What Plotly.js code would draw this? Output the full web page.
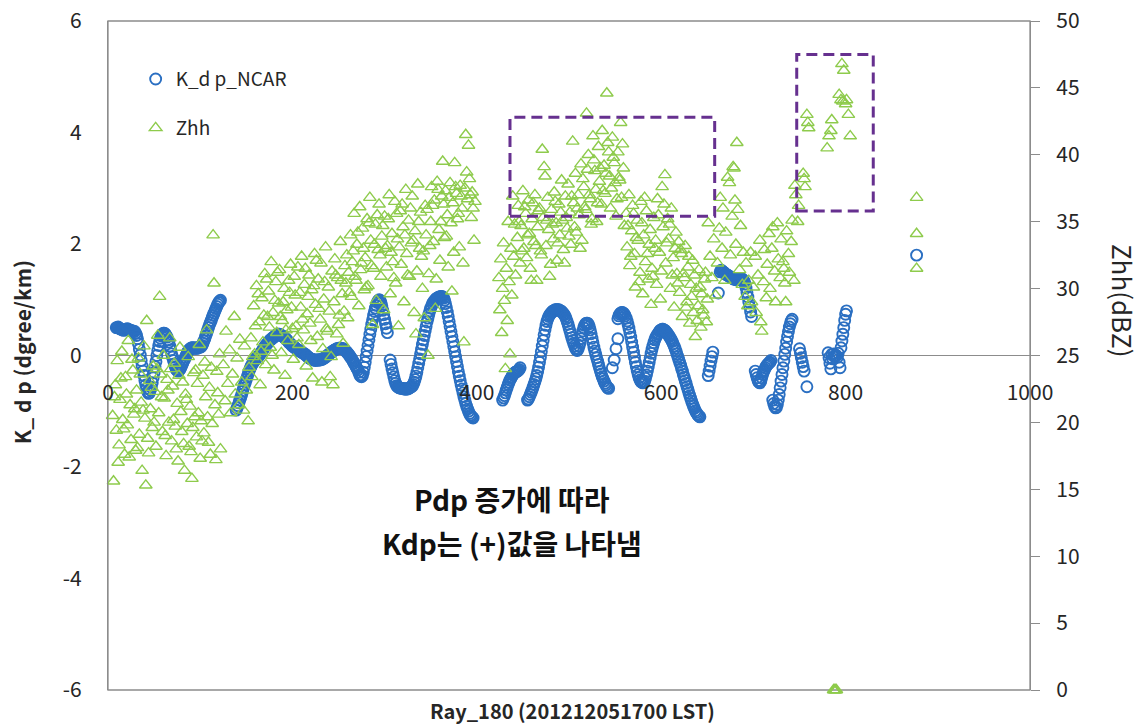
<!DOCTYPE html>
<html>
<head>
<meta charset="utf-8">
<script src="https://cdn.plot.ly/plotly-3.0.1.min.js"></script>
<style>
  html, body { margin: 0; padding: 0; background: #ffffff; }
  #chart { width: 1146px; height: 726px; }
</style>
</head>
<body>
<div id="chart"></div>
<script>
// Ray_180 (2012-12-05 17:00 LST): specific differential phase and reflectivity along the ray

// [ray gate, Kdp (deg/km)]
const kdpNcar = [
  [9,0.50],[10,0.50],[11,0.51],[12,0.49],[13,0.48],[14,0.47],[15,0.47],[16,0.46],[17,0.45],[18,0.46],[19,0.47],[20,0.47],
  [21,0.48],[22,0.47],[23,0.46],[24,0.45],[25,0.45],[26,0.44],[27,0.44],[28,0.43],[29,0.43],[30,0.40],
  [31,0.36],[32,0.30],[33,0.21],[34,0.11],[35,0.01],[36,-0.09],[37,-0.19],[38,-0.28],[39,-0.36],[40,-0.45],[41,-0.53],
  [42,-0.59],[43,-0.65],[44,-0.68],[45,-0.67],[46,-0.62],[47,-0.57],[48,-0.49],[49,-0.40],[50,-0.31],[51,-0.20],[52,-0.11],
  [53,0.00],[54,0.09],[55,0.18],[56,0.25],[57,0.31],[58,0.35],[59,0.38],[60,0.40],[61,0.40],[62,0.39],[63,0.36],[64,0.33],
  [65,0.28],[66,0.24],[67,0.17],[68,0.10],[69,0.03],[70,-0.03],[71,-0.09],[72,-0.15],[73,-0.20],[74,-0.25],[75,-0.27],
  [76,-0.28],[77,-0.27],[78,-0.25],[79,-0.22],[80,-0.18],[81,-0.14],[82,-0.10],[83,-0.07],[84,-0.03],[85,0.01],[86,0.05],
  [87,0.08],[88,0.10],[89,0.12],[90,0.13],[91,0.14],[92,0.14],[93,0.13],[94,0.13],[95,0.14],[96,0.13],[97,0.13],[98,0.14],
  [99,0.15],[100,0.15],[101,0.16],[102,0.18],[103,0.22],
  [104,0.26],[105,0.30],[106,0.35],[107,0.40],[108,0.45],[109,0.50],[110,0.55],[111,0.59],[112,0.63],[113,0.68],[114,0.72],
  [115,0.76],[116,0.80],[117,0.84],[118,0.88],[119,0.92],[120,0.95],[121,0.97],[122,0.99],
  [139,-0.98],[140,-0.94],[141,-0.90],[142,-0.85],[143,-0.80],[144,-0.75],[145,-0.70],[146,-0.64],[147,-0.58],[148,-0.53],
  [149,-0.48],[150,-0.43],[151,-0.38],[152,-0.33],[153,-0.28],[154,-0.24],[155,-0.20],[156,-0.17],[157,-0.14],[158,-0.11],
  [159,-0.09],[160,-0.07],[161,-0.05],[162,-0.03],[163,-0.02],[164,0.00],[165,0.03],[166,0.05],[167,0.08],[168,0.10],
  [169,0.13],[170,0.16],[171,0.18],[172,0.20],[173,0.22],[174,0.24],[175,0.26],[176,0.28],[177,0.29],[178,0.31],[179,0.32],
  [180,0.33],[181,0.35],[182,0.36],[183,0.37],[184,0.38],[185,0.38],[186,0.38],[187,0.37],[188,0.36],[189,0.35],[190,0.34],
  [191,0.33],[192,0.31],[193,0.30],[194,0.28],[195,0.26],[196,0.24],[197,0.22],[198,0.21],[199,0.19],[200,0.17],[201,0.16],
  [202,0.15],[203,0.14],[204,0.12],[205,0.11],[206,0.10],[207,0.09],[208,0.08],[209,0.07],[210,0.06],[211,0.05],[212,0.04],
  [213,0.03],[214,0.02],[215,0.00],[216,-0.01],[217,-0.03],[218,-0.04],[219,-0.05],[220,-0.06],[221,-0.07],[222,-0.07],
  [223,-0.08],[224,-0.08],[225,-0.09],[226,-0.08],[227,-0.08],[228,-0.08],[229,-0.08],[230,-0.08],[231,-0.07],[232,-0.07],
  [233,-0.06],[234,-0.05],[235,-0.04],[236,-0.03],[237,-0.01],[238,0.00],[239,0.01],[240,0.03],[241,0.04],[242,0.05],
  [243,0.07],[244,0.08],[245,0.09],[246,0.10],[247,0.11],[248,0.12],[249,0.12],[250,0.13],[251,0.13],[252,0.13],[253,0.13],
  [254,0.12],[255,0.12],[256,0.11],[257,0.09],[258,0.08],[259,0.06],[260,0.04],[261,0.02],[262,0.00],[263,-0.03],[264,-0.05],
  [265,-0.08],[266,-0.11],[267,-0.14],[268,-0.17],[269,-0.20],[270,-0.23],[271,-0.26],[272,-0.30],[273,-0.35],[274,-0.37],
  [275,-0.38],[276,-0.36],[277,-0.30],[278,-0.21],[279,-0.12],[280,-0.02],
  [281,0.08],[282,0.18],[283,0.28],[284,0.38],[285,0.47],[286,0.56],[287,0.64],[288,0.72],[289,0.79],[290,0.85],[291,0.90],
  [292,0.95],[293,0.98],[294,1.00],[295,0.99],[296,0.95],[297,0.89],[298,0.81],[299,0.73],[300,0.65],[301,0.57],[302,0.49],
  [303,0.41],
  [306,-0.08],[307,-0.16],[308,-0.24],[309,-0.31],[310,-0.38],[311,-0.45],[312,-0.50],[313,-0.54],[314,-0.56],[315,-0.57],
  [316,-0.58],[317,-0.58],[318,-0.59],[319,-0.59],[320,-0.59],[321,-0.60],[322,-0.60],[323,-0.60],[324,-0.60],[325,-0.60],
  [326,-0.59],[327,-0.58],[328,-0.57],[329,-0.56],[330,-0.55],[331,-0.52],[332,-0.48],[333,-0.43],
  [334,-0.37],[335,-0.30],[336,-0.22],[337,-0.14],[338,-0.06],[339,0.03],[340,0.11],[341,0.20],[342,0.28],[343,0.36],
  [344,0.44],[345,0.52],[346,0.60],[347,0.67],[348,0.74],[349,0.80],[350,0.85],[351,0.89],[352,0.93],[353,0.96],[354,0.98],
  [355,1.00],[356,1.02],[357,1.03],[358,1.04],[359,1.05],[360,1.05],[361,1.06],[362,1.06],[363,1.05],[364,1.03],[365,0.99],
  [366,0.93],[367,0.86],[368,0.78],[369,0.70],[370,0.61],
  [371,0.52],[372,0.43],[373,0.34],[374,0.25],[375,0.16],[376,0.07],[377,-0.02],[378,-0.11],[379,-0.20],[380,-0.29],
  [381,-0.37],[382,-0.45],[383,-0.53],[384,-0.60],[385,-0.67],[386,-0.74],[387,-0.80],[388,-0.86],[389,-0.91],[390,-0.96],
  [391,-1.00],[392,-1.04],[393,-1.07],[394,-1.09],[395,-1.11],[396,-1.12],
  [428,-0.80],[429,-0.76],[430,-0.72],[431,-0.67],[432,-0.62],[433,-0.57],[434,-0.52],[435,-0.48],[436,-0.44],[437,-0.41],
  [438,-0.38],[439,-0.35],[440,-0.33],[441,-0.31],[442,-0.30],[443,-0.29],[444,-0.28],[445,-0.27],[446,-0.25],[447,-0.22],
  [455,-0.80],[456,-0.78],[457,-0.74],[458,-0.70],[459,-0.66],[460,-0.62],[461,-0.57],[462,-0.52],[463,-0.47],[464,-0.42],
  [465,-0.36],[466,-0.29],[467,-0.21],[468,-0.12],[469,-0.03],[470,0.07],[471,0.17],[472,0.27],[473,0.37],[474,0.46],
  [475,0.54],[476,0.61],[477,0.66],[478,0.70],[479,0.73],[480,0.75],[481,0.77],[482,0.79],[483,0.80],[484,0.81],[485,0.82],
  [486,0.82],[487,0.82],[488,0.82],[489,0.82],[490,0.81],[491,0.80],[492,0.79],[493,0.77],
  [494,0.75],[495,0.73],[496,0.70],[497,0.66],[498,0.61],[499,0.56],[500,0.50],[501,0.44],[502,0.38],[503,0.32],[504,0.27],
  [505,0.22],[506,0.17],[507,0.13],[508,0.10],[509,0.09],[510,0.12],[511,0.17],[512,0.23],[513,0.30],[514,0.37],[515,0.44],
  [516,0.50],[517,0.54],[518,0.57],[519,0.58],[520,0.58],[521,0.56],[522,0.52],[523,0.46],[524,0.39],[525,0.31],[526,0.23],
  [527,0.15],[528,0.08],[529,0.02],[530,-0.04],[531,-0.10],[532,-0.16],[533,-0.22],[534,-0.28],[535,-0.33],[536,-0.38],
  [537,-0.42],[538,-0.46],[539,-0.50],[540,-0.53],[541,-0.56],[542,-0.58],[543,-0.59],
  [547,-0.22],[549,-0.08],[551,0.12],[553,0.30],
  [553,0.66],[554,0.71],[555,0.74],[556,0.76],[557,0.77],[558,0.77],[559,0.76],[560,0.74],[561,0.71],[562,0.67],[563,0.62],
  [564,0.56],[565,0.49],[566,0.41],[567,0.33],[568,0.24],[569,0.15],[570,0.06],[571,-0.03],[572,-0.12],[573,-0.20],
  [574,-0.28],[575,-0.34],[576,-0.40],[577,-0.44],[578,-0.47],[579,-0.48],[580,-0.49],[581,-0.48],[582,-0.46],[583,-0.41],
  [584,-0.35],[585,-0.28],[586,-0.20],[587,-0.12],[588,-0.04],[589,0.04],[590,0.11],[591,0.17],[592,0.23],[593,0.28],
  [594,0.32],[595,0.35],[596,0.38],[597,0.40],[598,0.43],[599,0.45],[600,0.46],[601,0.47],[602,0.47],[603,0.46],[604,0.45],
  [605,0.43],[606,0.41],[607,0.39],[608,0.36],[609,0.34],[610,0.31],[611,0.28],[612,0.25],[613,0.21],[614,0.17],[615,0.13],
  [616,0.08],[617,0.03],[618,-0.02],[619,-0.07],[620,-0.12],[621,-0.17],[622,-0.23],[623,-0.28],[624,-0.34],[625,-0.39],
  [626,-0.45],[627,-0.50],[628,-0.56],[629,-0.61],[630,-0.67],[631,-0.72],[632,-0.77],[633,-0.82],[634,-0.87],[635,-0.91],
  [636,-0.95],[637,-0.99],[638,-1.02],[639,-1.05],[640,-1.07],[641,-1.09],[642,-1.10],
  [651,-0.36],[652,-0.28],[653,-0.19],[654,-0.10],[655,-0.02],[656,0.06],[662,1.12],
  [664,1.50],[665,1.53],[666,1.52],[667,1.50],[668,1.49],[669,1.47],[670,1.46],[671,1.45],[672,1.44],[673,1.43],[674,1.42],
  [675,1.41],[676,1.40],[677,1.39],[678,1.38],[679,1.37],[680,1.37],[681,1.36],[682,1.36],[683,1.36],[684,1.37],[685,1.38],
  [686,1.38],[687,1.38],[688,1.37],[689,1.35],[690,1.33],[691,1.28],[692,1.21],[693,1.13],[694,1.05],[695,0.96],[696,0.87],
  [697,0.78],[698,0.70],
  [702,-0.28],[703,-0.34],[704,-0.40],[705,-0.45],[706,-0.48],[707,-0.49],[708,-0.46],[709,-0.40],[710,-0.34],[711,-0.29],
  [712,-0.26],[713,-0.22],[714,-0.19],[715,-0.17],[716,-0.15],[717,-0.13],[718,-0.12],[719,-0.09],
  [721,-0.80],[722,-0.86],[723,-0.91],[724,-0.94],[725,-0.93],[726,-0.88],[727,-0.80],[728,-0.70],[729,-0.58],[730,-0.46],
  [731,-0.34],[732,-0.22],[733,-0.10],[734,0.02],[735,0.13],[736,0.24],[737,0.34],[738,0.43],[739,0.51],[740,0.57],
  [741,0.62],[742,0.65],
  [750,0.12],[751,0.04],[752,-0.04],[753,-0.12],[754,-0.20],[755,-0.28],[758,-0.56],
  [781,0.05],[782,-0.04],[783,-0.14],[784,-0.24],[785,0.02],[786,-0.06],[787,0.03],[788,-0.02],[789,0.01],[790,0.00],
  [791,-0.03],[792,0.04],[793,-0.12],[794,-0.22],[795,0.14],[796,0.26],[797,0.38],[798,0.50],[799,0.63],[800,0.74],[801,0.80],
  [877,1.80]
];

// [ray gate, Zhh (dBZ)]
const zhhDbz = [
  [5,20.5],[6,15.6],[7,21.9],[8,22.8],[9,19.4],[10,24.6],[11,17.0],[12,18.3],[13,21.7],[14,23.3],[15,25.3],[16,20.2],
  [17,19.5],[18,17.6],[19,23.4],[20,22.1],[21,19.8],[22,26.1],[23,17.4],[24,21.3],[25,18.7],[26,24.7],[27,23.9],[28,20.6],
  [29,21.0],[30,17.9],[31,22.4],[32,18.1],[33,24.8],[34,19.1],[35,23.6],[36,21.5],[37,16.4],[38,20.9],[39,25.7],[40,20.3],
  [41,15.3],[42,27.6],[43,18.8],[44,17.7],[45,23.1],[46,21.0],[47,22.6],[48,19.6],[49,24.2],[50,20.0],[51,22.3],[52,18.2],
  [53,24.0],[54,26.5],[55,20.7],[56,29.4],[57,23.6],[58,21.9],[59,19.3],[60,25.0],[61,21.8],[62,19.0],[63,17.5],[64,23.2],
  [65,22.4],[66,20.0],[67,26.3],[68,24.0],[69,18.6],[70,22.7],[71,20.2],[72,24.4],[73,19.7],[74,18.0],[75,21.4],[76,17.1],
  [77,23.5],[78,25.6],[79,20.8],[80,19.3],[81,23.0],[82,18.4],[83,16.4],[84,22.1],[85,21.7],[86,19.9],[87,24.9],[88,18.2],
  [89,21.2],[90,17.8],[91,15.8],[92,19.6],[93,23.7],[94,20.4],[95,23.9],[96,18.9],[97,22.9],[98,20.7],[99,25.8],[100,17.3],
  [101,20.1],[102,18.6],[103,23.5],[104,19.2],[105,24.5],[106,21.9],[107,26.9],[108,20.4],[109,18.5],[110,22.6],[111,17.6],
  [112,24.1],[113,19.9],[114,34.0],[115,30.4],[116,21.3],[117,17.2],[118,23.8],[119,22.2],[120,20.6],[121,25.1],[122,18.0],
  [125,24.3],[127,21.6],[128,26.8],[130,22.9],[132,25.4],[133,20.7],[135,23.6],[137,27.9],[138,22.1],[140,24.8],[142,21.3],
  [143,26.2],[145,23.0],[147,20.9],[148,25.7],[150,22.4],[152,20.1],[153,24.1],
  [155,26.3],[156,23.4],[157,24.9],[158,28.7],[159,25.1],[160,27.2],[161,30.2],[162,24.6],[163,29.6],[164,27.5],[165,22.8],
  [166,25.3],[167,29.3],[168,26.0],[169,28.0],[170,31.1],[171,24.3],[172,30.7],[173,27.9],[174,29.8],[175,27.1],[176,25.6],
  [177,32.0],[178,25.0],[179,28.2],[180,23.9],[181,29.1],[182,30.5],[183,26.7],[184,31.2],[185,28.9],[186,31.4],[187,27.9],
  [188,25.2],[189,27.6],[190,29.0],[191,30.0],[192,23.5],[193,26.9],[194,28.4],[195,26.1],[196,30.6],[197,29.7],[198,31.8],
  [199,28.6],[200,27.0],[201,24.7],[202,30.9],[203,29.5],[204,27.2],[205,26.3],[206,31.6],[207,25.8],[208,29.7],[209,28.6],
  [210,32.4],[211,27.7],[212,26.9],[213,30.3],[214,31.5],[215,24.2],[216,28.1],[217,29.4],[218,31.0],[219,27.4],[220,26.1],
  [221,29.9],[222,23.3],[223,30.2],[224,32.6],[225,28.8],[226,32.1],[227,26.4],[228,30.7],[229,28.5],[230,27.7],[231,31.9],
  [232,23.0],[233,25.5],[234,29.2],[235,30.5],[236,33.1],[237,27.0],[238,26.8],[239,30.1],[240,28.3],[241,23.4],[242,24.9],
  [243,31.3],[244,22.8],[245,29.0],[246,32.2],[247,31.0],[248,26.6],[249,30.8],[250,27.3],[251,28.0],[252,33.5],[253,30.6],
  [254,29.6],[255,25.9],[256,28.3],[257,31.7],[258,30.4],[259,32.5],[260,27.8],
  [261,31.2],[262,29.7],[263,34.0],[264,29.4],[265,32.0],[266,32.8],[267,35.6],[268,30.9],[269,30.6],[270,33.3],[271,34.2],
  [272,28.7],[273,36.1],[274,31.4],[275,31.9],[276,34.5],[277,33.0],[278,29.9],[279,32.3],[280,30.1],[281,35.2],[282,30.2],
  [283,34.9],[284,36.8],[285,33.6],[286,31.7],[287,27.3],[288,31.5],[289,33.3],[290,34.8],[291,29.1],[292,35.5],[293,32.9],
  [294,36.3],[295,32.5],[296,30.9],[297,33.9],[298,34.7],[299,28.4],
  [300,35.4],[301,33.0],[302,31.6],[303,33.2],[304,35.2],[305,37.0],[306,29.6],[307,32.7],[308,34.1],[309,32.0],[310,30.8],
  [311,36.5],[312,30.4],[313,35.6],[314,33.7],[315,27.2],[316,33.1],[317,35.8],[318,31.8],[319,36.3],[320,34.6],[321,29.0],
  [322,34.0],[323,37.4],[324,32.6],[325,31.0],[326,35.1],[327,30.9],[328,36.0],[329,33.4],[330,36.9],[331,33.6],[332,28.2],
  [333,34.3],[334,26.6],[335,31.3],[336,37.8],[337,35.0],[338,33.0],[339,35.7],[340,32.4],[341,30.0],[342,32.8],[343,27.8],
  [344,36.2],[345,34.0],[346,35.9],[347,25.0],[348,31.1],[349,33.2],[350,35.0],[351,37.6],[352,36.2],[353,33.5],[354,36.6],
  [355,28.5],[356,30.7],[357,38.0],[358,37.4],[359,34.4],[360,32.1],[361,35.0],[362,36.9],[363,39.5],[364,36.3],[365,33.8],
  [366,37.3],[367,33.9],[368,35.5],[369,31.6],[370,36.8],[371,37.9],[372,34.9],[373,29.8],[374,36.4],[375,32.7],[376,39.4],
  [377,37.6],[378,37.1],[379,35.2],[380,35.6],[381,33.1],[382,37.7],[383,36.9],[384,36.0],[385,31.9],[386,26.0],[387,37.5],
  [388,41.5],[389,38.7],[390,36.7],[391,40.7],[392,38.2],[393,37.0],[394,35.3],[395,37.2],[396,36.0],[397,33.6],[398,36.5],
  [424,30.8],[425,28.4],[426,32.2],[427,26.7],[428,30.0],[429,33.4],[430,29.1],[431,24.0],[432,31.5],[433,27.6],[434,35.0],
  [435,30.5],[436,25.1],[437,33.0],[438,29.5],[439,36.9],[440,32.4],[441,34.8],[442,31.0],
  [444,33.8],[445,36.2],[446,35.0],[447,31.9],[448,34.7],[449,32.8],[450,37.3],[451,33.0],[452,36.1],[453,35.6],[454,32.3],
  [455,34.0],[456,36.6],[457,34.1],[458,31.5],[459,30.6],[460,35.2],[461,36.4],[462,33.5],[463,37.0],[464,33.2],[465,30.6],
  [466,34.6],[467,35.8],[468,36.0],[469,32.8],[470,32.5],[471,40.4],[472,35.3],[473,39.1],[474,38.4],[475,33.2],[476,35.1],
  [477,36.8],[478,34.4],[479,30.9],[480,31.8],[481,35.9],[482,34.8],[483,33.7],[484,37.2],[485,36.5],[486,34.9],[487,32.1],
  [488,33.4],[489,36.3],[490,34.0],[491,35.7],[492,38.1],[493,35.1],[494,32.9],[495,31.9],[496,36.9],[497,35.3],[498,34.5],
  [499,37.8],[500,33.9],[501,35.7],[502,33.3],[503,36.9],[504,41.0],[505,36.4],[506,34.6],[507,38.6],[508,34.2],[509,36.0],
  [510,37.0],[511,35.5],[512,33.0],[513,39.3],[514,33.6],[515,38.2],[516,37.6],[517,36.1],[518,35.9],[519,43.1],[520,38.9],
  [521,40.0],[522,37.0],[523,36.7],[524,34.8],[525,35.2],[526,41.4],[527,39.6],[528,38.8],[529,37.4],[530,35.0],[531,36.4],
  [532,40.6],[533,38.0],[534,39.0],[535,36.3],[536,41.8],[537,37.3],[538,39.2],[539,37.1],[540,38.6],[541,44.6],[542,40.9],
  [543,40.2],[544,38.4],[545,36.0],[546,37.5],[547,41.3],[548,39.8],[549,39.4],[550,37.9],[551,35.4],[552,36.7],[553,40.2],
  [554,38.3],[555,38.1],[556,42.4],[557,36.8],[558,40.8],[559,39.0],[560,34.7],
  [562,35.6],[563,33.1],[564,34.7],[565,37.0],[566,31.7],[567,32.4],[568,34.3],[569,36.2],[570,35.6],[571,32.6],[572,30.1],
  [573,33.8],[574,35.1],[575,33.6],[576,30.5],[577,31.2],[578,36.5],[579,34.9],[580,29.6],[581,34.0],[582,36.8],[583,32.0],
  [584,35.8],[585,32.6],[586,30.7],[587,33.3],[588,34.4],[589,28.8],[590,31.5],[591,30.9],[592,35.3],[593,33.0],[594,33.6],
  [595,30.3],[596,36.7],[597,35.5],[598,32.7],[599,29.2],[600,31.3],[601,37.6],[602,34.6],[603,36.3],[604,38.5],[605,31.9],
  [606,33.4],[607,35.2],[608,33.7],[609,34.8],[610,30.0],[611,36.0],[612,31.0],[613,32.3],[614,28.6],[615,33.0],[616,34.2],
  [617,31.1],[618,30.4],[619,33.5],[620,29.7],[621,32.9],[622,32.6],[623,27.9],[624,31.1],[625,30.8],[626,33.2],[627,28.6],
  [628,29.0],[629,31.6],[630,32.4],[631,27.4],[632,30.3],[633,29.4],[634,32.1],[635,28.2],[636,31.0],[637,26.4],[638,30.0],
  [639,27.6],[640,28.7],[641,31.4],[642,30.1],[643,27.1],[644,29.6],[645,28.4],[646,28.0],[647,30.7],[648,31.2],[649,27.5],
  [650,29.2],
  [651,34.9],[653,32.4],[655,30.8],[657,33.7],[659,29.5],[661,31.9],[663,34.5],[664,36.8],[666,33.0],[667,36.0],[669,30.6],
  [670,34.2],[672,38.3],[674,37.9],[675,32.5],[677,35.4],[678,39.1],[679,39.0],[680,36.6],[681,33.3],[682,40.9],[683,35.9],
  [685,31.4],[686,34.7],[688,30.3],[689,32.7],[691,29.4],[692,31.9],[694,28.7],[695,30.6],[697,32.7],[698,29.0],
  [700,30.1],[702,32.4],[703,28.2],[705,31.0],[707,33.6],[708,27.5],[709,26.8],[711,30.5],[712,32.9],[714,29.3],[715,31.8],
  [717,34.1],[718,30.0],[720,33.0],[721,34.6],[723,31.3],[724,29.0],[726,34.9],[727,32.2],[729,30.8],[730,33.7],[732,32.0],
  [733,31.5],[734,30.4],[735,29.0],[736,34.3],[738,32.6],[739,31.2],[741,33.5],[742,35.1],[744,30.6],[745,37.7],[746,37.0],
  [748,35.0],[749,36.2],
  [754,38.6],[755,38.2],[756,37.6],[758,43.0],[759,42.4],[760,42.0],[780,40.5],[782,41.4],[784,41.8],[785,42.6],
  [793,44.5],[795,44.1],[796,46.8],[797,44.0],[798,46.3],[800,43.8],[801,44.1],[803,43.0],[805,41.4],
  [787,0],[788,0],[789,0],[790,0],
  [877,36.8],[877,34.1],[877,31.5]
];

const xTicks = [0, 200, 400, 600, 800, 1000];
const kdpTicks = [-6, -4, -2, 0, 2, 4, 6];
const zhhTicks = [0, 5, 10, 15, 20, 25, 30, 35, 40, 45, 50];

// highlighted regions: [ray from, ray to, dBZ from, dBZ to]
const highlightBoxes = [
  [436, 658, 35.4, 42.8],
  [747, 830, 35.8, 47.5]
];

const FONT = '"Noto Sans CJK KR", "Noto Sans", sans-serif';
const AXIS_GREY = '#8c8c8c';
const TEXT = '#262626';

const traces = [
  {
    type: 'scatter', mode: 'markers', name: 'K_d p_NCAR',
    x: kdpNcar.map(p => p[0]), y: kdpNcar.map(p => p[1]),
    xaxis: 'x', yaxis: 'y', legend: 'legend', cliponaxis: false,
    marker: { symbol: 'circle-open', size: 11, color: '#2a6fc2', line: { width: 1.9, color: '#2a6fc2' } }
  },
  {
    type: 'scatter', mode: 'markers', name: 'Zhh',
    x: zhhDbz.map(p => p[0]), y: zhhDbz.map(p => p[1]),
    xaxis: 'x', yaxis: 'y2', legend: 'legend2', cliponaxis: false,
    marker: { symbol: 'triangle-up-open', size: 11, color: '#8ecb4c', line: { width: 1.4, color: '#8ecb4c' } }
  }
];

const shapes = [
  { type: 'rect', xref: 'paper', yref: 'paper', x0: 0, x1: 1, y0: 0, y1: 1,
    line: { color: AXIS_GREY, width: 1.3 }, layer: 'below' }
].concat(highlightBoxes.map(b => ({
  type: 'rect', xref: 'x', yref: 'y2', x0: b[0], x1: b[1], y0: b[2], y1: b[3],
  line: { color: '#66308f', width: 3, dash: '11px,6px' }, layer: 'above'
})));

const layout = {
  width: 1146, height: 726,
  margin: { l: 108, r: 116, t: 21, b: 36 },
  paper_bgcolor: '#ffffff', plot_bgcolor: '#ffffff',
  font: { family: FONT, color: TEXT, size: 19 },
  showlegend: true,
  xaxis: {
    range: [0, 1000], tickvals: xTicks, ticktext: xTicks.map(String),
    anchor: 'free', position: 0.5, showline: false, showgrid: false, zeroline: false,
    ticks: 'outside', ticklen: 18, tickcolor: 'rgba(0,0,0,0)',
    tickfont: { family: FONT, size: 21, color: TEXT }
  },
  yaxis: {
    range: [-6, 6], tickvals: kdpTicks, ticktext: kdpTicks.map(String),
    showline: true, linecolor: AXIS_GREY, linewidth: 1.3, showgrid: false,
    zeroline: true, zerolinecolor: AXIS_GREY, zerolinewidth: 1.3,
    ticks: 'outside', ticklen: 21, tickcolor: 'rgba(0,0,0,0)',
    tickfont: { family: FONT, size: 21, color: TEXT }
  },
  yaxis2: {
    range: [0, 50], overlaying: 'y', side: 'right', tickvals: zhhTicks, ticktext: zhhTicks.map(String),
    showline: true, linecolor: AXIS_GREY, linewidth: 1.3, showgrid: false, zeroline: false,
    ticks: 'outside', ticklen: 9, tickcolor: AXIS_GREY, tickwidth: 1.3,
    ticklabelstandoff: 12,
    tickfont: { family: FONT, size: 21, color: TEXT }
  },
  legend: {
    x: 0.03, y: 0.913, xanchor: 'left', yanchor: 'middle',
    bgcolor: 'rgba(0,0,0,0)', font: { family: FONT, size: 19, color: TEXT }
  },
  legend2: {
    x: 0.03, y: 0.840, xanchor: 'left', yanchor: 'middle',
    bgcolor: 'rgba(0,0,0,0)', font: { family: FONT, size: 19, color: TEXT }
  },
  shapes: shapes,
  annotations: [
    { text: '<b>K_ d p (dgree/km)</b>', xref: 'paper', yref: 'paper', x: -0.0933, y: 0.505,
      xanchor: 'center', yanchor: 'middle',
      textangle: -90, showarrow: false, font: { family: FONT, size: 21, color: TEXT } },
    { text: 'Zhh(dBZ)', xref: 'paper', yref: 'paper', x: 1.1009, y: 0.5815,
      xanchor: 'center', yanchor: 'middle',
      textangle: 90, showarrow: false, font: { family: FONT, size: 26, color: TEXT } },
    { text: '<b>Ray_180 (201212051700 LST)</b>', xref: 'paper', yref: 'paper', x: 0.504, y: -0.031,
      xanchor: 'center', yanchor: 'middle',
      showarrow: false, font: { family: FONT, size: 20, color: TEXT } },
    { text: '<b>Pdp 증가에 따라</b>', xref: 'paper', yref: 'paper', x: 0.438, y: 0.2855,
      xanchor: 'center', yanchor: 'middle',
      showarrow: false, font: { family: FONT, size: 28, color: '#111111' } },
    { text: '<b>Kdp는 (+)값을 나타냄</b>', xref: 'paper', yref: 'paper', x: 0.438, y: 0.2197,
      xanchor: 'center', yanchor: 'middle',
      showarrow: false, font: { family: FONT, size: 28, color: '#111111' } }
  ]
};

Plotly.newPlot('chart', traces, layout, { displayModeBar: false, responsive: false });
</script>
</body>
</html>
